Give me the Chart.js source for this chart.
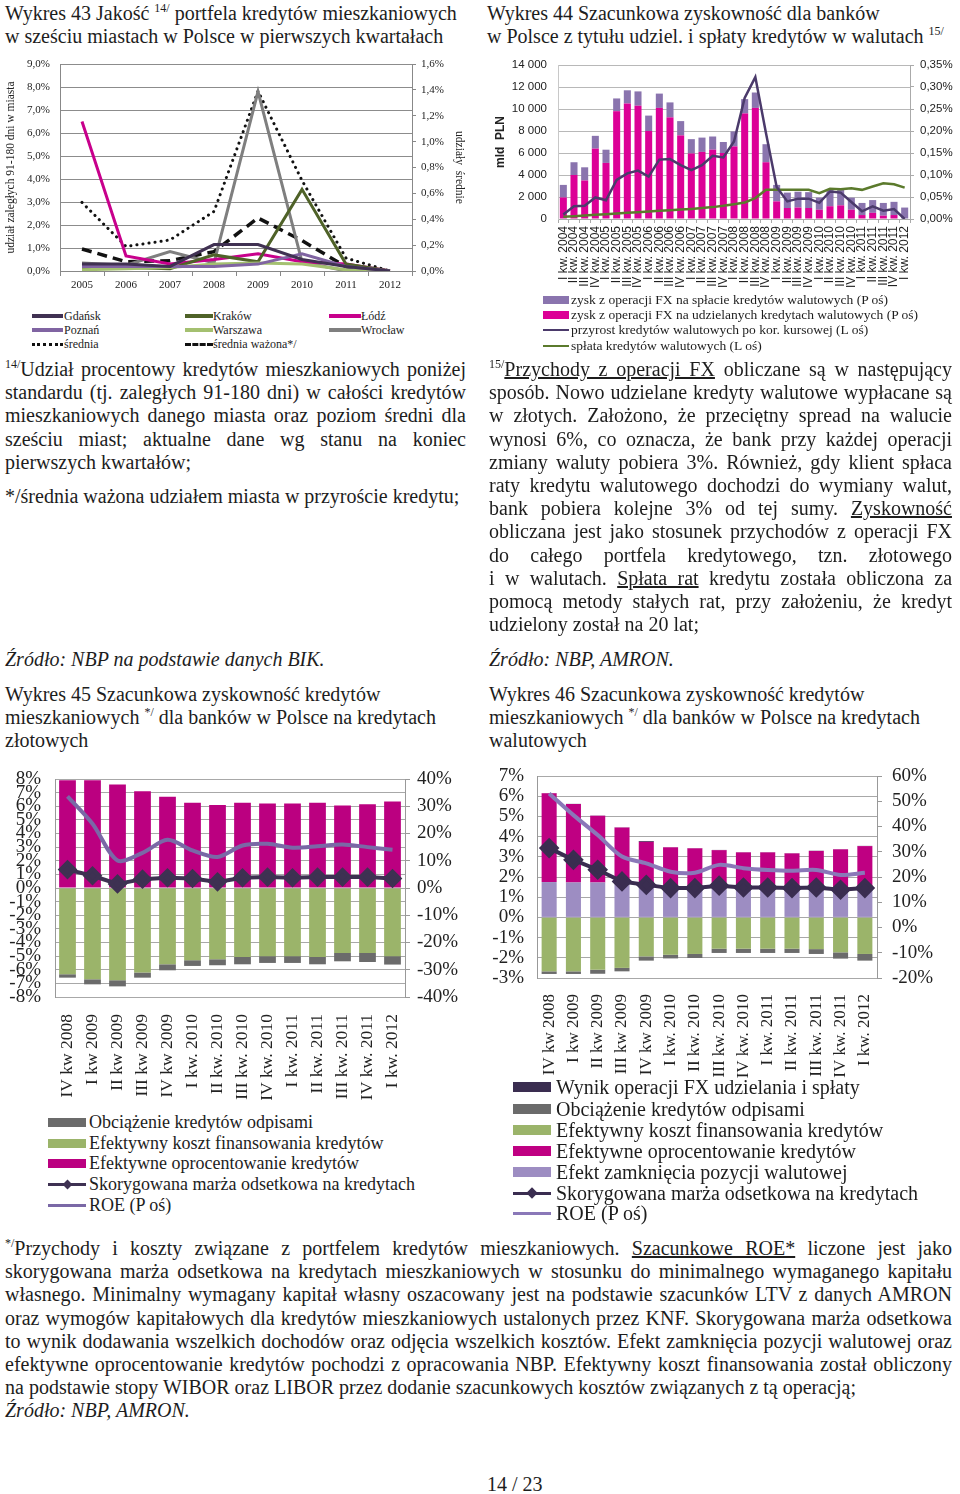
<!DOCTYPE html>
<html lang="pl">
<head>
<meta charset="utf-8">
<title>Wykresy 43-46</title>
<script src="https://cdn.jsdelivr.net/npm/chart.js@4.4.0/dist/chart.umd.min.js"></script>
<style>
  body { margin:0; background:#fff; }
  #page { position:relative; width:960px; height:1494px; overflow:hidden; }
  .t { position:absolute; font-family:'Liberation Serif','Times New Roman',serif; font-size:20px; line-height:23.2px; color:#1d1d1d; white-space:nowrap; }
  .j div { text-align:justify; text-align-last:justify; }
  .j div.l { text-align-last:left; }
  .i { font-style:italic; }
  sup { font-size:12px; line-height:0; vertical-align:baseline; position:relative; top:-8px; }
  canvas { position:absolute; }
  .lg { position:absolute; font-family:'Liberation Serif','Times New Roman',serif; color:#1d1d1d; white-space:nowrap; }
  .lg .sw { position:absolute; }
  .lg .tx { position:absolute; }
</style>
</head>
<body>
<div id="page">

  <div class="t" style="left:5px;top:2px">Wykres 43 Jakość <sup>14/</sup> portfela kredytów mieszkaniowych<br>w sześciu miastach w Polsce w pierwszych kwartałach</div>
  <div class="t" style="left:487px;top:2px">Wykres 44 Szacunkowa zyskowność dla banków<br>w Polsce z tytułu udziel. i spłaty kredytów w walutach <sup>15/</sup></div>

  <canvas id="c43" width="470" height="250" style="left:0;top:52px"></canvas>
  <canvas id="c44" width="480" height="245" style="left:480px;top:55px"></canvas>

  <div id="lg43"></div>
  <div id="lg44"></div>

  <div class="t j" style="left:5px;top:358px;width:461px">
    <div><sup>14/</sup>Udział procentowy kredytów mieszkaniowych poniżej</div>
    <div>standardu (tj. zaległych 91-180 dni) w całości kredytów</div>
    <div>mieszkaniowych danego miasta oraz poziom średni dla</div>
    <div>sześciu miast; aktualne dane wg stanu na koniec</div>
    <div class="l">pierwszych kwartałów;</div>
  </div>
  <div class="t" style="left:5px;top:485px">*/średnia ważona udziałem miasta w przyroście kredytu;</div>

  <div class="t j" style="left:489px;top:358px;width:463px">
    <div><sup>15/</sup><u>Przychody z operacji FX</u> obliczane są w następujący</div>
    <div>sposób. Nowo udzielane kredyty walutowe wypłacane są</div>
    <div>w złotych. Założono, że przeciętny spread na walucie</div>
    <div>wynosi 6%, co oznacza, że bank przy każdej operacji</div>
    <div>zmiany waluty pobiera 3%. Również, gdy klient spłaca</div>
    <div>raty kredytu walutowego dochodzi do wymiany walut,</div>
    <div>bank pobiera kolejne 3% od tej sumy. <u>Zyskowność</u></div>
    <div>obliczana jest jako stosunek przychodów z operacji FX</div>
    <div>do całego portfela kredytowego, tzn. złotowego</div>
    <div>i w walutach. <u>Spłata rat</u> kredytu została obliczona za</div>
    <div>pomocą metody stałych rat, przy założeniu, że kredyt</div>
    <div class="l">udzielony został na 20 lat;</div>
  </div>

  <div class="t i" style="left:5px;top:648px">Źródło: NBP na podstawie danych BIK.</div>
  <div class="t i" style="left:489px;top:648px">Źródło: NBP, AMRON.</div>

  <div class="t" style="left:5px;top:683px">Wykres 45 Szacunkowa zyskowność kredytów<br>mieszkaniowych <sup>*/</sup> dla banków w Polsce na kredytach<br>złotowych</div>
  <div class="t" style="left:489px;top:683px">Wykres 46 Szacunkowa zyskowność kredytów<br>mieszkaniowych <sup>*/</sup> dla banków w Polsce na kredytach<br>walutowych</div>

  <canvas id="c45" width="470" height="335" style="left:0;top:765px"></canvas>
  <canvas id="c46" width="480" height="320" style="left:480px;top:762px"></canvas>

  <div id="lg45"></div>
  <div id="lg46"></div>

  <div class="t j" style="left:5px;top:1237px;width:947px">
    <div><sup>*/</sup>Przychody i koszty związane z portfelem kredytów mieszkaniowych. <u>Szacunkowe ROE*</u> liczone jest jako</div>
    <div>skorygowana marża odsetkowa na kredytach mieszkaniowych w stosunku do minimalnego wymaganego kapitału</div>
    <div>własnego. Minimalny wymagany kapitał własny oszacowany jest na podstawie szacunków LTV z danych AMRON</div>
    <div>oraz wymogów kapitałowych dla kredytów mieszkaniowych ustalonych przez KNF. Skorygowana marża odsetkowa</div>
    <div>to wynik dodawania wszelkich dochodów oraz odjęcia wszelkich kosztów. Efekt zamknięcia pozycji walutowej oraz</div>
    <div>efektywne oprocentowanie kredytów pochodzi z opracowania NBP. Efektywny koszt finansowania został obliczony</div>
    <div class="l">na podstawie stopy WIBOR oraz LIBOR przez dodanie szacunkowych kosztów związanych z tą operacją;</div>
    <div class="l i">Źródło: NBP, AMRON.</div>
  </div>

  <div class="t" style="left:487px;top:1473px">14 / 23</div>
</div>

<script>
// ---- Wykres 43 ----
const lata = ['2005', '2006', '2007', '2008', '2009', '2010', '2011', '2012'];
const gdansk   = [0.3, 0.3, 0.2, 1.15, 1.15, 0.5, 0.2, 0.0];
const krakow   = [0.1, 0.15, 0.1, 0.7, 0.4, 3.55, 0.3, 0.0];
const lodz     = [6.5, 0.65, 0.3, 0.5, 0.75, 0.4, 0.3, 0.0];
const poznan   = [0.2, 0.2, 0.2, 0.2, 0.3, 0.75, 0.2, 0.0];
const warszawa = [0.05, 0.1, 0.15, 0.3, 0.35, 0.3, 0.05, 0.0];
const wroclaw  = [0.35, 0.25, 0.85, 0.35, 7.8, 0.4, 0.0, 0.0];
const srednia       = [0.53, 0.19, 0.24, 0.46, 1.39, 0.70, 0.10, 0.0];
const sredniaWazona = [0.17, 0.072, 0.08, 0.15, 0.41, 0.235, 0.033, 0.0];

// ---- Wykres 44 ----
const kwartaly44 = [
  'I kw. 2004', 'II kw. 2004', 'III kw. 2004', 'IV kw. 2004',
  'I kw. 2005', 'II kw. 2005', 'III kw. 2005', 'IV kw. 2005',
  'I kw. 2006', 'II kw. 2006', 'III kw. 2006', 'IV kw. 2006',
  'I kw. 2007', 'II kw. 2007', 'III kw. 2007', 'IV kw. 2007',
  'I kw. 2008', 'II kw. 2008', 'III kw. 2008', 'IV kw. 2008',
  'I kw. 2009', 'II kw. 2009', 'III kw. 2009', 'IV kw. 2009',
  'I kw. 2010', 'II kw. 2010', 'III kw. 2010', 'IV kw. 2010',
  'I kw. 2011', 'II kw. 2011', 'III kw. 2011', 'IV kw. 2011',
  'I kw. 2012'
];
// zysk FX (P oś, %)
const zyskUdzielane = [0.049, 0.100, 0.0875, 0.160, 0.1275, 0.245, 0.2625, 0.2575, 0.200, 0.2525, 0.231, 0.190,
  0.149, 0.1525, 0.1575, 0.150, 0.165, 0.240, 0.2525, 0.129, 0.040, 0.025, 0.026, 0.025,
  0.021, 0.029, 0.031, 0.021, 0.009, 0.014, 0.0075, 0.009, 0.0];
const zyskSplata = [0.0285, 0.029, 0.030, 0.029, 0.030, 0.029, 0.030, 0.0325, 0.035, 0.0325, 0.034, 0.0325,
  0.0325, 0.0325, 0.030, 0.025, 0.034, 0.0325, 0.035, 0.041, 0.0375, 0.035, 0.036, 0.036,
  0.0275, 0.039, 0.035, 0.0275, 0.0275, 0.029, 0.029, 0.030, 0.026];
// mld PLN (L oś)
const przyrostWal = [400, 1150, 1200, 1960, 1700, 3550, 4150, 4400, 3850, 5400, 5450, 4900,
  4450, 4900, 5750, 5600, 7050, 11000, 12900, 7800, 2900, 1600, 1850, 1850,
  1470, 2500, 2400, 1550, 700, 1150, 750, 900, 0];
const splataWal = [200, 260, 320, 380, 440, 500, 560, 620, 680, 740, 800, 860,
  920, 1000, 1080, 1200, 1350, 1500, 1900, 2650, 2650, 2650, 2650, 2650,
  2350, 2750, 2700, 2800, 2650, 2950, 3250, 3150, 2850];

// ---- Wykresy 45 i 46 ----
const kwartaly = ['IV kw 2008', 'I kw 2009', 'II kw 2009', 'III kw 2009', 'IV kw 2009',
  'I kw. 2010', 'II kw. 2010', 'III kw. 2010', 'IV kw. 2010',
  'I kw. 2011', 'II kw. 2011', 'III kw. 2011', 'IV kw. 2011', 'I kw. 2012'];

const oprocentowanie45 = [7.9, 7.9, 7.6, 7.1, 6.7, 6.25, 6.1, 6.25, 6.2, 6.2, 6.25, 6.05, 6.15, 6.35];
const koszt45  = [-6.33, -6.7, -6.77, -6.2, -5.6, -5.3, -5.23, -5.06, -5.0, -5.0, -5.06, -4.77, -4.77, -5.0];
const odpisy45 = [-0.25, -0.37, -0.45, -0.38, -0.44, -0.42, -0.44, -0.54, -0.5, -0.5, -0.54, -0.61, -0.66, -0.62];
const marza45  = [1.35, 0.9, 0.3, 0.65, 0.75, 0.7, 0.45, 0.75, 0.8, 0.75, 0.8, 0.8, 0.8, 0.7];
const roe45    = [33.6, 23.6, 10.1, 12.9, 17.7, 13.8, 11.4, 15.6, 16.2, 14.8, 15.3, 16.0, 15.0, 14.0];

const zamkniecie46    = [1.75, 1.73, 1.73, 1.7, 1.6, 1.5, 1.5, 1.5, 1.5, 1.5, 1.5, 1.5, 1.45, 1.5];
const oprocentowanie46 = [4.39, 3.88, 3.30, 2.75, 2.14, 1.97, 1.92, 1.83, 1.72, 1.72, 1.67, 1.79, 1.92, 2.03];
const wynikFX46       = [0.01, 0.01, 0.01, 0.01, 0.04, 0.01, 0.01, 0.01, 0.01, 0.01, 0.01, 0.01, 0.01, 0.01];
const koszt46  = [-2.67, -2.67, -2.59, -2.5, -1.93, -1.85, -1.81, -1.55, -1.55, -1.55, -1.55, -1.57, -1.73, -1.81];
const odpisy46 = [-0.13, -0.13, -0.2, -0.17, -0.21, -0.18, -0.2, -0.21, -0.21, -0.21, -0.21, -0.24, -0.31, -0.33];
const marza46  = [3.43, 2.85, 2.36, 1.78, 1.61, 1.45, 1.45, 1.57, 1.48, 1.48, 1.45, 1.48, 1.37, 1.45];
const roe46    = [53.1, 44.5, 36.6, 28.1, 25.4, 22.1, 21.7, 24.8, 23.5, 22.8, 22.5, 22.8, 20.8, 21.7];

const SERIF = "'Liberation Serif', 'Times New Roman', serif";
const SANS = "'Liberation Sans', Arial, sans-serif";

Chart.defaults.font.family = SERIF;
Chart.defaults.color = '#222';
Chart.defaults.animation = false;
Chart.defaults.responsive = false;
Chart.defaults.devicePixelRatio = 1;
Chart.defaults.plugins.legend.display = false;
Chart.defaults.plugins.tooltip.enabled = false;

function proc1(v) { return v.toFixed(1).replace('.', ',') + '%'; }
function proc2(v) { return v.toFixed(2).replace('.', ',') + '%'; }
function proc0(v) { return Math.round(v) + '%'; }
function tysiace(v) { return String(Math.round(v)).replace(/\B(?=(\d{3})+(?!\d))/g, ' '); }

// stała szerokość osi pionowej, bez dodatkowego marginesu na etykiety
function osPionowa(w) {
  return s => { s.width = w; s.paddingTop = 0; s.paddingBottom = 0; };
}

// legendy rysowane jako html
function legenda(id, items, font) {
  const box = document.getElementById(id);
  items.forEach(it => {
    const d = document.createElement('div');
    d.className = 'lg';
    d.style.left = it.x + 'px';
    d.style.top = (it.y - 12) + 'px';
    d.style.fontSize = font + 'px';
    d.style.height = '24px';
    const sw = document.createElement('div');
    sw.className = 'sw';
    sw.style.left = '0px';
    sw.style.width = it.w + 'px';
    if (it.dash) {
      sw.style.top = (12 - 1.5) + 'px';
      sw.style.borderTop = '3px ' + it.dash + ' ' + it.color;
    } else {
      sw.style.top = (12 - it.h / 2) + 'px';
      sw.style.height = it.h + 'px';
      sw.style.background = it.color;
    }
    d.appendChild(sw);
    if (it.diamond) {
      const dm = document.createElement('div');
      dm.className = 'sw';
      dm.style.width = it.diamond + 'px';
      dm.style.height = it.diamond + 'px';
      dm.style.background = it.color;
      dm.style.left = (it.w / 2 - it.diamond / 2) + 'px';
      dm.style.top = (12 - it.diamond / 2) + 'px';
      dm.style.transform = 'rotate(45deg)';
      d.appendChild(dm);
    }
    const tx = document.createElement('div');
    tx.className = 'tx';
    tx.style.left = (it.tx - it.x) + 'px';
    tx.style.top = '0px';
    tx.style.lineHeight = '24px';
    tx.textContent = it.text;
    d.appendChild(tx);
    box.appendChild(d);
  });
}

// ---- Wykres 43 ----
new Chart(document.getElementById('c43'), {
  type: 'line',
  data: {
    labels: lata,
    datasets: [
      { label: 'Gdańsk', data: gdansk, borderColor: '#403152', yAxisID: 'y' },
      { label: 'Poznań', data: poznan, borderColor: '#8064a2', yAxisID: 'y' },
      { label: 'Warszawa', data: warszawa, borderColor: '#a4c070', yAxisID: 'y' },
      { label: 'Kraków', data: krakow, borderColor: '#4f6228', yAxisID: 'y' },
      { label: 'Łódź', data: lodz, borderColor: '#c8008c', yAxisID: 'y' },
      { label: 'Wrocław', data: wroclaw, borderColor: '#7f7f7f', yAxisID: 'y' },
      { label: 'średnia', data: srednia, borderColor: '#111', borderWidth: 3, borderDash: [0.1, 6], borderCapStyle: 'round', yAxisID: 'y1' },
      { label: 'średnia ważona*/', data: sredniaWazona, borderColor: '#111', borderWidth: 3.5, borderDash: [10, 6], yAxisID: 'y1' }
    ]
  },
  options: {
    layout: { padding: { top: 12 } },
    elements: { line: { borderWidth: 3, tension: 0 }, point: { radius: 0 } },
    scales: {
      x: {
        offset: true,
        grid: { drawOnChartArea: false, offset: true, tickLength: 5, color: '#888' },
        border: { color: '#888' },
        ticks: { padding: 3, font: { size: 11 } },
        afterFit: s => { s.height = 31; }
      },
      y: {
        min: 0, max: 9,
        ticks: { stepSize: 1, autoSkip: false, callback: proc1, padding: 10, font: { size: 11 } },
        grid: { color: '#8c8c8c', drawTicks: false },
        border: { color: '#888' },
        title: { display: true, text: 'udział zaległych 91-180 dni w miasta', font: { size: 11.5 }, padding: { top: 4, bottom: 0 } },
        afterFit: osPionowa(60)
      },
      y1: {
        position: 'right',
        min: 0, max: 1.6,
        ticks: { stepSize: 0.2, autoSkip: false, callback: proc1, padding: 5, font: { size: 11 } },
        grid: { drawOnChartArea: false, tickLength: 4, color: '#888' },
        border: { color: '#888' },
        title: { display: true, text: 'udziały  średnie', font: { size: 11.5 }, padding: { top: 4, bottom: 0 } },
        afterFit: osPionowa(58)
      }
    }
  }
});

legenda('lg43', [
  { x: 32, y: 316, w: 31, h: 4, tx: 64, color: '#403152', text: 'Gdańsk' },
  { x: 32, y: 330, w: 31, h: 4, tx: 64, color: '#8064a2', text: 'Poznań' },
  { x: 32, y: 344, w: 31, dash: 'dotted', tx: 64, color: '#111', text: 'średnia' },
  { x: 185, y: 316, w: 28, h: 4, tx: 213, color: '#4f6228', text: 'Kraków' },
  { x: 185, y: 330, w: 28, h: 4, tx: 213, color: '#a4c070', text: 'Warszawa' },
  { x: 185, y: 344, w: 28, dash: 'dashed', tx: 213, color: '#111', text: 'średnia ważona*/' },
  { x: 329, y: 316, w: 32, h: 4, tx: 361, color: '#c8008c', text: 'Łódź' },
  { x: 329, y: 330, w: 32, h: 4, tx: 361, color: '#7f7f7f', text: 'Wrocław' }
], 12);

// ---- Wykres 44 ----
new Chart(document.getElementById('c44'), {
  type: 'bar',
  data: {
    labels: kwartaly44,
    datasets: [
      { type: 'line', label: 'przyrost kredytów walutowych po kor. kursowej (L oś)', data: przyrostWal, borderColor: '#4b3a6b', borderWidth: 2.5, pointRadius: 0, tension: 0, yAxisID: 'y', order: 0 },
      { type: 'line', label: 'spłata kredytów walutowych (L oś)', data: splataWal, borderColor: '#5b7a2c', borderWidth: 2.5, pointRadius: 0, tension: 0, yAxisID: 'y', order: 0 },
      { label: 'zysk z operacji FX na udzielanych kredytach walutowych (P oś)', data: zyskUdzielane, backgroundColor: '#dc0096', yAxisID: 'y1', order: 1 },
      { label: 'zysk z operacji FX na spłacie kredytów walutowych (P oś)', data: zyskSplata, backgroundColor: '#8a74ae', yAxisID: 'y1', order: 1 }
    ]
  },
  options: {
    layout: { padding: { top: 10 } },
    datasets: { bar: { barPercentage: 0.66, categoryPercentage: 1 } },
    scales: {
      x: {
        stacked: true,
        grid: { drawOnChartArea: false, offset: true, tickLength: 4, color: '#aaa' },
        border: { color: '#aaa' },
        ticks: { autoSkip: false, minRotation: 90, maxRotation: 90, padding: 3, font: { family: SANS, size: 12 } },
        afterFit: s => { s.height = 81; }
      },
      y: {
        min: 0, max: 14000,
        ticks: { stepSize: 2000, autoSkip: false, callback: tysiace, padding: 11, font: { family: SANS, size: 11.5 } },
        grid: { color: '#b8b8b8', drawTicks: false },
        border: { color: '#c8c8c8' },
        title: { display: true, text: 'mld  PLN', font: { family: SANS, size: 12, weight: 'bold' }, padding: { top: 13, bottom: 0 } },
        afterFit: osPionowa(78)
      },
      y1: {
        position: 'right',
        stacked: true,
        min: 0, max: 0.35,
        ticks: { stepSize: 0.05, autoSkip: false, callback: proc2, padding: 6, font: { family: SANS, size: 11.5 } },
        grid: { drawOnChartArea: false, tickLength: 4, color: '#aaa' },
        border: { color: '#aaa' },
        afterFit: osPionowa(50)
      }
    }
  }
});

legenda('lg44', [
  { x: 543, y: 300, w: 26, h: 8, tx: 571, color: '#8a74ae', text: 'zysk z operacji FX na spłacie kredytów walutowych (P oś)' },
  { x: 543, y: 315, w: 26, h: 8, tx: 571, color: '#dc0096', text: 'zysk z operacji FX na udzielanych kredytach walutowych (P oś)' },
  { x: 543, y: 330, w: 26, h: 2, tx: 571, color: '#4b3a6b', text: 'przyrost kredytów walutowych po kor. kursowej (L oś)' },
  { x: 543, y: 346, w: 26, h: 2, tx: 571, color: '#5b7a2c', text: 'spłata kredytów walutowych (L oś)' }
], 13.5);

// ---- Wykres 45 ----
new Chart(document.getElementById('c45'), {
  type: 'bar',
  data: {
    labels: kwartaly,
    datasets: [
      { type: 'line', label: 'Skorygowana marża odsetkowa na kredytach', data: marza45, borderColor: '#3e3152', backgroundColor: '#3e3152', borderWidth: 4, pointStyle: 'rectRot', pointRadius: 7, tension: 0, yAxisID: 'y', order: 0 },
      { type: 'line', label: 'ROE (P oś)', data: roe45, borderColor: '#7a68a6', borderWidth: 4, pointRadius: 0, tension: 0.3, yAxisID: 'y1', order: 0 },
      { label: 'Efektywny koszt finansowania kredytów', data: koszt45, backgroundColor: '#9bb46a', order: 1 },
      { label: 'Obciążenie kredytów odpisami', data: odpisy45, backgroundColor: '#6b6b6b', order: 1 },
      { label: 'Efektywne oprocentowanie kredytów', data: oprocentowanie45, backgroundColor: '#bb0080', order: 1 }
    ]
  },
  options: {
    layout: { padding: { top: 14 } },
    datasets: { bar: { barPercentage: 0.67, categoryPercentage: 1 } },
    scales: {
      x: {
        stacked: true,
        grid: { display: false },
        border: { display: false },
        ticks: { autoSkip: false, minRotation: 90, maxRotation: 90, padding: 9, font: { size: 17.5 } },
        afterFit: s => { s.height = 103; }
      },
      y: {
        stacked: true,
        min: -8, max: 8,
        ticks: { stepSize: 1, autoSkip: false, callback: proc0, padding: 14, font: { size: 19 } },
        grid: { color: '#a8a8a8', drawTicks: false },
        border: { color: '#999' },
        afterFit: osPionowa(55)
      },
      y1: {
        position: 'right',
        min: -40, max: 40,
        ticks: { stepSize: 10, autoSkip: false, callback: proc0, padding: 7, font: { size: 19 } },
        grid: { drawOnChartArea: false, tickLength: 5, color: '#999' },
        border: { color: '#999' },
        afterFit: osPionowa(65)
      }
    }
  }
});

legenda('lg45', [
  { x: 48, y: 1122, w: 38, h: 9, tx: 89, color: '#6b6b6b', text: 'Obciążenie kredytów odpisami' },
  { x: 48, y: 1143, w: 38, h: 9, tx: 89, color: '#9bb46a', text: 'Efektywny koszt finansowania kredytów' },
  { x: 48, y: 1163, w: 38, h: 9, tx: 89, color: '#bb0080', text: 'Efektywne oprocentowanie kredytów' },
  { x: 48, y: 1184, w: 38, h: 3, diamond: 7, tx: 89, color: '#3e3152', text: 'Skorygowana marża odsetkowa na kredytach' },
  { x: 48, y: 1205, w: 38, h: 3, tx: 89, color: '#7a68a6', text: 'ROE (P oś)' }
], 18);

// ---- Wykres 46 ----
new Chart(document.getElementById('c46'), {
  type: 'bar',
  data: {
    labels: kwartaly,
    datasets: [
      { type: 'line', label: 'Skorygowana marża odsetkowa na kredytach', data: marza46, borderColor: '#3a2d50', backgroundColor: '#3a2d50', borderWidth: 4, pointStyle: 'rectRot', pointRadius: 7.5, tension: 0, yAxisID: 'y', order: 0 },
      { type: 'line', label: 'ROE (P oś)', data: roe46, borderColor: '#8a78b8', borderWidth: 4, pointRadius: 0, tension: 0.3, yAxisID: 'y1', order: 0 },
      { label: 'Efekt zamknięcia pozycji walutowej', data: zamkniecie46, backgroundColor: '#9d8dc2', order: 1 },
      { label: 'Efektywne oprocentowanie kredytów', data: oprocentowanie46, backgroundColor: '#bf0082', order: 1 },
      { label: 'Wynik operacji FX udzielania i spłaty', data: wynikFX46, backgroundColor: '#3a2d50', order: 1 },
      { label: 'Efektywny koszt finansowania kredytów', data: koszt46, backgroundColor: '#9bb46a', order: 1 },
      { label: 'Obciążenie kredytów odpisami', data: odpisy46, backgroundColor: '#6b6b6b', order: 1 }
    ]
  },
  options: {
    layout: { padding: { top: 14 } },
    datasets: { bar: { barPercentage: 0.62, categoryPercentage: 1 } },
    scales: {
      x: {
        stacked: true,
        grid: { display: false },
        border: { display: false },
        ticks: { autoSkip: false, minRotation: 90, maxRotation: 90, padding: 8, font: { size: 17 } },
        afterFit: s => { s.height = 104; }
      },
      y: {
        stacked: true,
        min: -3, max: 7,
        ticks: { stepSize: 1, autoSkip: false, callback: proc0, padding: 13, font: { size: 19 } },
        grid: { color: '#a8a8a8', drawTicks: false },
        border: { color: '#999' },
        afterFit: osPionowa(57)
      },
      y1: {
        position: 'right',
        min: -20, max: 60,
        ticks: { stepSize: 10, autoSkip: false, callback: proc0, padding: 10, font: { size: 19 } },
        grid: { drawOnChartArea: false, tickLength: 5, color: '#999' },
        border: { color: '#999' },
        afterFit: osPionowa(83)
      }
    }
  }
});

legenda('lg46', [
  { x: 513, y: 1087, w: 38, h: 10, tx: 556, color: '#3a2d50', text: 'Wynik operacji FX udzielania i spłaty' },
  { x: 513, y: 1109, w: 38, h: 10, tx: 556, color: '#6b6b6b', text: 'Obciążenie kredytów odpisami' },
  { x: 513, y: 1130, w: 38, h: 10, tx: 556, color: '#9bb46a', text: 'Efektywny koszt finansowania kredytów' },
  { x: 513, y: 1151, w: 38, h: 10, tx: 556, color: '#bf0082', text: 'Efektywne oprocentowanie kredytów' },
  { x: 513, y: 1172, w: 38, h: 10, tx: 556, color: '#9d8dc2', text: 'Efekt zamknięcia pozycji walutowej' },
  { x: 513, y: 1193, w: 38, h: 3, diamond: 8, tx: 556, color: '#3a2d50', text: 'Skorygowana marża odsetkowa na kredytach' },
  { x: 513, y: 1213, w: 38, h: 3, tx: 556, color: '#8a78b8', text: 'ROE (P oś)' }
], 20);
</script>
</body>
</html>
